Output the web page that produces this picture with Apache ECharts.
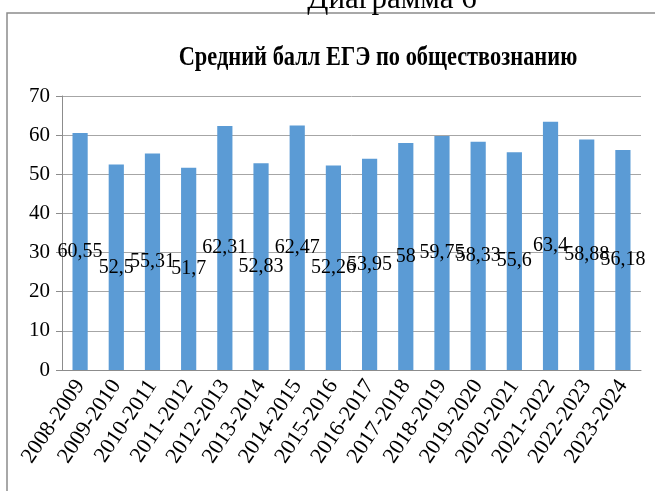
<!DOCTYPE html>
<html>
<head>
<meta charset="utf-8">
<script src="https://cdn.jsdelivr.net/npm/echarts@6/dist/echarts.min.js"></script>
<style>
html, body { margin: 0; padding: 0; background: #fff; }
#chart { width: 655px; height: 491px; }
</style>
</head>
<body>
<div id="chart"></div>
<script>
var years = ['2008-2009', '2009-2010', '2010-2011', '2011-2012', '2012-2013', '2013-2014',
    '2014-2015', '2015-2016', '2016-2017', '2017-2018', '2018-2019', '2019-2020',
    '2020-2021', '2021-2022', '2022-2023', '2023-2024'];
var scores = [60.55, 52.5, 55.31, 51.7, 62.31, 52.83, 62.47, 52.26, 53.95, 58, 59.75, 58.33,
    55.6, 63.4, 58.88, 56.18];

var serif = '"Liberation Serif", serif';
var myChart = echarts.init(document.getElementById('chart'));

var option = {
    animation: false,
    backgroundColor: '#fff',
    graphic: [
        {
            type: 'rect',
            shape: { x: 7, y: 13, width: 660, height: 490 },
            style: { fill: 'none', stroke: '#8c8c8c', lineWidth: 1.5 },
            silent: true
        },
        {
            type: 'text',
            x: 392, y: -16,
            style: { text: 'Диаграмма 6', font: '31px "Liberation Serif"', fill: '#000', align: 'center' }
        },
        {
            type: 'text',
            x: 378, y: 44,
            scaleX: 0.8,
            style: {
                text: 'Средний балл ЕГЭ по обществознанию',
                font: 'bold 28px "Liberation Serif"', fill: '#000', align: 'center'
            }
        }
    ],
    grid: { left: 62, right: 14, top: 96, bottom: 121 },
    xAxis: {
        type: 'category',
        data: years,
        axisLine: { lineStyle: { color: '#8c8c8c' } },
        axisTick: { length: 6, lineStyle: { color: '#8c8c8c' } },
        axisLabel: {
            interval: 0, rotate: 56, margin: 12,
            fontFamily: serif, fontSize: 22, color: '#000'
        }
    },
    yAxis: {
        type: 'value',
        min: 0, max: 70, interval: 10,
        axisLine: { show: true, lineStyle: { color: '#8c8c8c' } },
        axisTick: { show: true, length: 6, lineStyle: { color: '#8c8c8c' } },
        axisLabel: { fontFamily: serif, fontSize: 21, color: '#000', margin: 12 },
        splitLine: { lineStyle: { color: '#a6a6a6' } }
    },
    series: [
        {
            type: 'bar',
            data: scores,
            barWidth: '42%',
            itemStyle: { color: '#5b9bd5' },
            label: {
                show: true,
                position: 'inside',
                fontFamily: serif,
                fontSize: 20,
                color: '#000',
                formatter: function (p) { return String(p.value).replace('.', ','); }
            }
        }
    ]
};
myChart.setOption(option);
</script>
</body>
</html>
